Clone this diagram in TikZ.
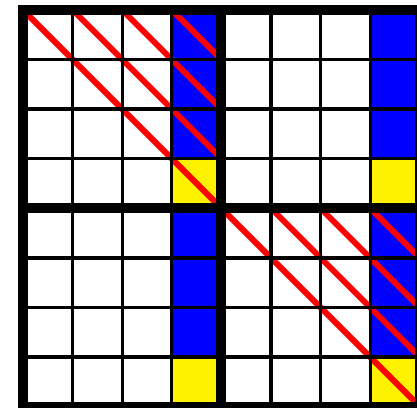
\documentclass[tikz,border=0pt]{standalone}
\begin{document}
\begin{tikzpicture}[x=1cm,y=-1cm,
  cellrule/.style={line width=1.9pt},
  blockrule/.style={line width=5.7pt},
  diag/.style={red,line width=3.4pt}]
\useasboundingbox (-0.464,-0.2) rectangle (7.944,8.024);
% coloured last column of each block
\foreach \c in {3,7}{
  \foreach \r in {0,1,2,4,5,6}{\fill[blue] (\c,\r) rectangle ++(1,1);}
  \foreach \r in {3,7}{\fill[yellow] (\c,\r) rectangle ++(1,1);}
}
% diagonals in the two blocks on the main diagonal
\foreach \o in {0,4}{
  \foreach \k in {0,...,3}{\draw[diag] (\o+\k,\o) -- (\o+4,\o+4-\k);}
}
% grid
\foreach \i in {1,2,3,5,6,7}{
  \draw[cellrule] (\i,0) -- (\i,8);
  \draw[cellrule] (0,\i) -- (8,\i);
}
\draw[blockrule] (4,0) -- (4,8);
\draw[blockrule] (0,4) -- (8,4);
\draw[blockrule] (0,0) rectangle (8,8);
\end{tikzpicture}
\end{document}
